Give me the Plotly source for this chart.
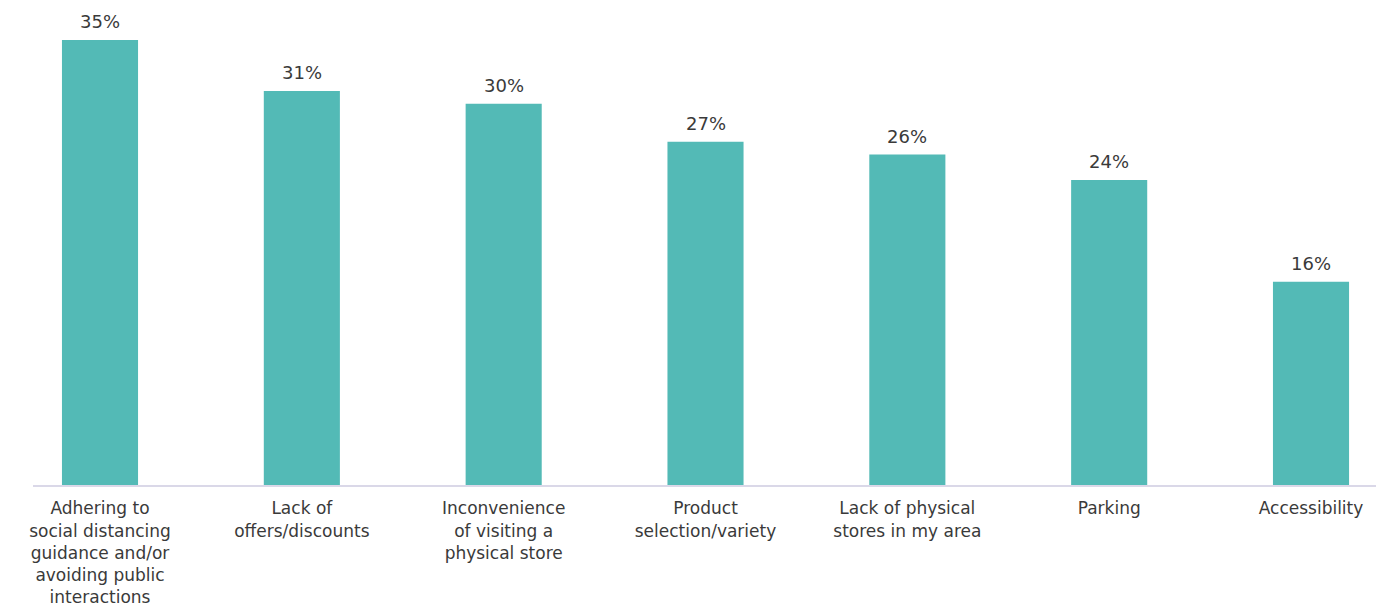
import plotly.graph_objects as go

categories = [
    "Adhering to<br>social distancing<br>guidance and/or<br>avoiding public<br>interactions",
    "Lack of<br>offers/discounts",
    "Inconvenience<br>of visiting a<br>physical store",
    "Product<br>selection/variety",
    "Lack of physical<br>stores in my area",
    "Parking",
    "Accessibility",
]
values = [35, 31, 30, 27, 26, 24, 16]
labels = [f"{v}%" for v in values]

FONT = "DejaVu Sans"
TEXT_COLOR = "#3a3a3a"

xs = list(range(len(categories)))

fig = go.Figure(
    go.Bar(
        x=xs,
        y=values,
        marker=dict(color="#53BAB6", line=dict(width=0)),
        width=0.377,
        cliponaxis=False,
    )
)

for x, v, lab in zip(xs, values, labels):
    fig.add_annotation(
        x=x, y=v, text=lab, showarrow=False,
        xanchor="center", yanchor="bottom", yshift=6,
        font=dict(family=FONT, size=18, color=TEXT_COLOR),
    )

fig.update_layout(
    width=1392,
    height=606,
    margin=dict(l=33, r=16, t=10, b=121, autoexpand=False),
    paper_bgcolor="white",
    plot_bgcolor="white",
    showlegend=False,
    font=dict(family=FONT, size=17, color=TEXT_COLOR),
)
fig.update_xaxes(
    range=[-0.332, 6.322],
    tickmode="array",
    tickvals=xs,
    ticktext=categories,
    tickangle=0,
    automargin=False,
    showline=True,
    linecolor="#DAD8E8",
    linewidth=2,
    showgrid=False,
    zeroline=False,
    ticks="outside",
    ticklen=7,
    tickcolor="rgba(0,0,0,0)",
    tickfont=dict(family=FONT, size=17, color=TEXT_COLOR),
)
fig.update_yaxes(
    range=[0, 37.37],
    automargin=False,
    showgrid=False,
    zeroline=False,
    showticklabels=False,
    showline=False,
)

fig.write_html("out.html")
